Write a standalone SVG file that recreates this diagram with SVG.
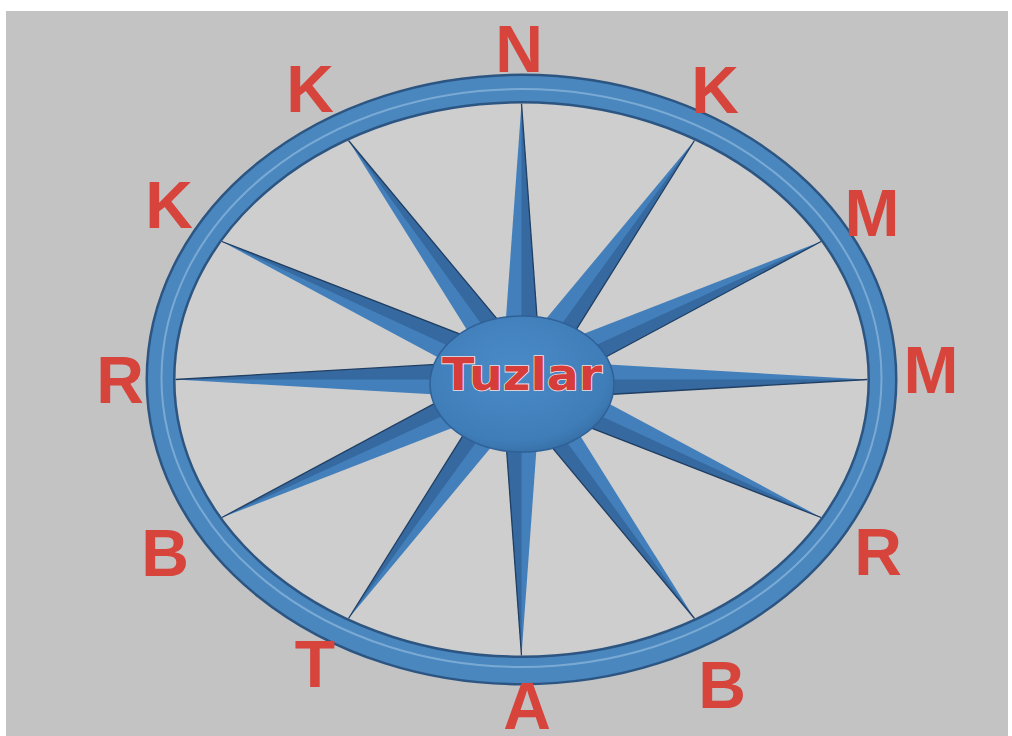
<svg xmlns="http://www.w3.org/2000/svg" width="1012" height="736" viewBox="0 0 1012 736">
  <defs>
    <style>
      .lbl { font-family: "Liberation Sans", Arial, sans-serif; font-weight: bold; font-size: 66px; fill: #d6443c; text-anchor: middle; }
      .spk { fill: #437fbb; }
      .spkD { fill: #35699f; }
      .edge { fill: none; stroke: #213f63; stroke-width: 1.3; }
    </style>
    <radialGradient id="hub" cx="0.45" cy="0.4" r="0.65">
      <stop offset="0" stop-color="#4a8bc7"/>
      <stop offset="0.8" stop-color="#3f7db8"/>
      <stop offset="1" stop-color="#356ca3"/>
    </radialGradient>
  </defs>

  <rect x="0" y="0" width="1012" height="736" fill="#ffffff"/>
  <rect x="6" y="11" width="1002" height="725" fill="#c3c3c3"/>
  <ellipse cx="521.5" cy="379.5" rx="346" ry="277" fill="#cecece"/>

  <g id="connectors">
    <g id="spike-0"><polygon class="spk" points="867.5,379.5 521.5,359.5 521.5,399.5"/><polygon class="spkD" points="867.5,379.5 521.5,379.5 521.5,399.5"/><line class="edge" x1="867.5" y1="379.5" x2="521.5" y2="399.5"/></g>
    <g id="spike-30"><polygon class="spk" points="821.1,241.5 529.9,397.7 513.1,361.3"/><polygon class="spkD" points="821.1,241.5 521.5,379.5 529.9,397.7"/><line class="edge" x1="821.1" y1="241.5" x2="529.9" y2="397.7"/></g>
    <g id="spike-60"><polygon class="spk" points="694.5,140.5 537.7,391.2 505.3,367.8"/><polygon class="spkD" points="694.5,140.5 521.5,379.5 537.7,391.2"/><line class="edge" x1="694.5" y1="140.5" x2="537.7" y2="391.2"/></g>
    <g id="spike-90"><polygon class="spk" points="521.5,103.5 541.5,379.5 501.5,379.5"/><polygon class="spkD" points="521.5,103.5 521.5,379.5 541.5,379.5"/><line class="edge" x1="521.5" y1="103.5" x2="541.5" y2="379.5"/></g>
    <g id="spike-120"><polygon class="spk" points="348.5,140.5 537.7,367.8 505.3,391.2"/><polygon class="spkD" points="348.5,140.5 521.5,379.5 537.7,367.8"/><line class="edge" x1="348.5" y1="140.5" x2="537.7" y2="367.8"/></g>
    <g id="spike-150"><polygon class="spk" points="221.9,241.5 529.9,361.3 513.1,397.7"/><polygon class="spkD" points="221.9,241.5 521.5,379.5 529.9,361.3"/><line class="edge" x1="221.9" y1="241.5" x2="529.9" y2="361.3"/></g>
    <g id="spike-180"><polygon class="spk" points="175.5,379.5 521.5,359.5 521.5,399.5"/><polygon class="spkD" points="175.5,379.5 521.5,379.5 521.5,359.5"/><line class="edge" x1="175.5" y1="379.5" x2="521.5" y2="359.5"/></g>
    <g id="spike-210"><polygon class="spk" points="221.9,517.5 529.9,397.7 513.1,361.3"/><polygon class="spkD" points="221.9,517.5 521.5,379.5 513.1,361.3"/><line class="edge" x1="221.9" y1="517.5" x2="513.1" y2="361.3"/></g>
    <g id="spike-240"><polygon class="spk" points="348.5,618.5 537.7,391.2 505.3,367.8"/><polygon class="spkD" points="348.5,618.5 521.5,379.5 505.3,367.8"/><line class="edge" x1="348.5" y1="618.5" x2="505.3" y2="367.8"/></g>
    <g id="spike-270"><polygon class="spk" points="521.5,655.5 541.5,379.5 501.5,379.5"/><polygon class="spkD" points="521.5,655.5 521.5,379.5 501.5,379.5"/><line class="edge" x1="521.5" y1="655.5" x2="501.5" y2="379.5"/></g>
    <g id="spike-300"><polygon class="spk" points="694.5,618.5 537.7,367.8 505.3,391.2"/><polygon class="spkD" points="694.5,618.5 521.5,379.5 505.3,391.2"/><line class="edge" x1="694.5" y1="618.5" x2="505.3" y2="391.2"/></g>
    <g id="spike-330"><polygon class="spk" points="821.1,517.5 529.9,361.3 513.1,397.7"/><polygon class="spkD" points="821.1,517.5 521.5,379.5 513.1,397.7"/><line class="edge" x1="821.1" y1="517.5" x2="513.1" y2="397.7"/></g>
  </g>

  <g id="hub-node">
    <ellipse cx="522" cy="384" rx="92" ry="68" fill="url(#hub)" stroke="#2f6198" stroke-width="1.5"/>
    <text x="522" y="390" font-family="'DejaVu Sans', Verdana, sans-serif" font-weight="bold" font-size="44" fill="#d63c3a" stroke="#f3e0e0" stroke-width="1.6" paint-order="stroke" text-anchor="middle" textLength="160" lengthAdjust="spacingAndGlyphs">Tuzlar</text>
  </g>

  <g id="ring">
    <ellipse cx="521.5" cy="379.5" rx="361" ry="291" fill="none" stroke="#2c5582" stroke-width="30"/>
    <ellipse cx="521.5" cy="379.5" rx="361" ry="291" fill="none" stroke="#4a87bf" stroke-width="25"/>
    <ellipse cx="521.5" cy="378" rx="360" ry="289" fill="none" stroke="#86b3da" stroke-width="2" opacity="0.8"/>
  </g>

  <g id="labels">
    <g id="lbl-N"><text class="lbl" x="519" y="72">N</text></g>
    <g id="lbl-K1"><text class="lbl" x="715" y="113">K</text></g>
    <g id="lbl-M1"><text class="lbl" x="872" y="236">M</text></g>
    <g id="lbl-M2"><text class="lbl" x="931" y="393">M</text></g>
    <g id="lbl-R1"><text class="lbl" x="878" y="575">R</text></g>
    <g id="lbl-B1"><text class="lbl" x="722" y="708">B</text></g>
    <g id="lbl-A"><text class="lbl" x="527" y="729">A</text></g>
    <g id="lbl-T"><text class="lbl" x="315" y="687">T</text></g>
    <g id="lbl-B2"><text class="lbl" x="165" y="576">B</text></g>
    <g id="lbl-R2"><text class="lbl" x="120" y="403">R</text></g>
    <g id="lbl-K2"><text class="lbl" x="169" y="228">K</text></g>
    <g id="lbl-K3"><text class="lbl" x="310" y="112">K</text></g>
  </g>
</svg>
